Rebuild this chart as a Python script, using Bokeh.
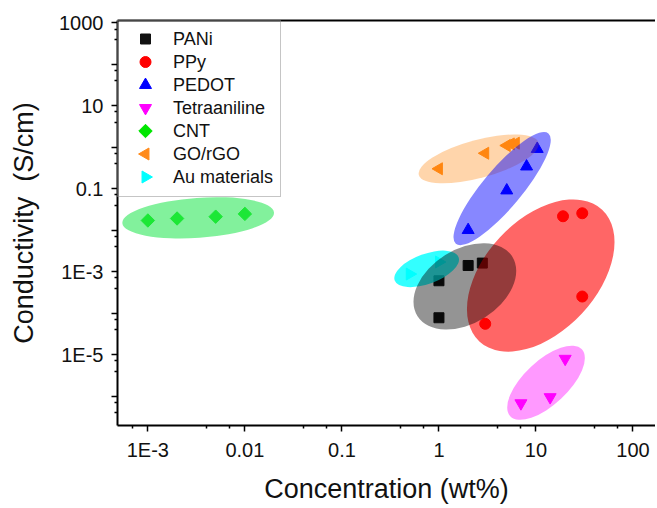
import numpy as np
from bokeh.plotting import figure
from bokeh.models import (Range1d, FixedTicker, LogAxis, Legend, LegendItem,
                          ColumnDataSource, LinearScale)
from bokeh.embed import file_html
from bokeh.resources import INLINE

# ---------------- data ----------------
pani_x = [1.0, 1.0, 2.0, 2.8]
pani_y = [7.7e-5, 6.0e-4, 1.4e-3, 1.6e-3]
ppy_x = [3.0, 19.0, 30.0, 30.0]
ppy_y = [5.5e-5, 0.0215, 0.0254, 2.5e-4]
pedot_x = [2.0, 5.0, 8.0, 10.3]
pedot_y = [0.010, 0.090, 0.34, 0.90]
tetra_x = [7.0, 14.0, 20.0]
tetra_y = [6.7e-7, 9.4e-7, 7.9e-6]
cnt_x = [0.001, 0.002, 0.005, 0.01]
cnt_y = [0.017, 0.019, 0.021, 0.0245]
go_x = [1.0, 3.0, 5.0, 5.5, 6.2]
go_y = [0.30, 0.71, 1.09, 1.19, 1.24]
au_x = [0.5, 1.0]
au_y = [8.7e-4, 1.7e-3]

series_names = ["PANi", "PPy", "PEDOT", "Tetraaniline", "CNT", "GO/rGO", "Au materials"]

# highlight ellipses: centre in data units, size in screen px, angle in degrees
ell_names = ["CNT", "GO/rGO", "PEDOT", "Au materials", "PPy", "PANi", "Tetraaniline"]
ell_cx = [3.3e-3, 2.57, 4.48, 0.747, 11.2, 1.85, 12.7]
ell_cy = [0.0197, 0.52, 0.10, 1.16e-3, 8.0e-4, 4.4e-4, 2.09e-6]
ell_w = [152, 124, 144, 68, 180, 112, 98]
ell_h = [40, 38, 39, 30, 112, 74, 44]
ell_ang = [4, 15, 50, 20, 47, 32, 43]
ell_color = ["#2ee85a", "#ff8000", "#0000ff", "#00ffff", "#ff0000", "#000000", "#ff00ff"]
ell_alpha = [0.6, 0.33, 0.47, 0.8, 0.6, 0.42, 0.4]

# ticks
x_major = [1e-3, 1e-2, 1e-1, 1.0, 10.0, 100.0]
x_labels = ["1E-3", "0.01", "0.1", "1", "10", "100"]
x_minor = [7e-4, 4e-3, 7e-3, 4e-2, 7e-2, 0.4, 0.7, 4.0, 7.0, 40.0, 70.0]
y_major = [1e-6, 1e-5, 1e-4, 1e-3, 1e-2, 1e-1, 1.0, 10.0, 100.0, 1000.0]
y_labels = ["", "1E-5", "", "1E-3", "", "0.1", "", "10", "", "1000"]
y_minor = [4e-7, 7e-7, 4e-6, 7e-6, 4e-5, 7e-5, 4e-4, 7e-4, 4e-3, 7e-3,
           4e-2, 7e-2, 0.4, 0.7, 4.0, 7.0, 40.0, 70.0, 400.0, 700.0]

FONT = "Liberation Sans"
W, H = 655, 508
BL, BT, BB = 117, 20, 83
FW, FH = W - BL, H - BT - BB

p = figure(width=W, height=H, x_axis_type="log", y_axis_type="log",
           x_range=Range1d(10 ** -3.313, 10 ** 2.232),
           y_range=Range1d(10 ** -6.71, 10 ** 3.05),
           output_backend="svg", toolbar_location=None,
           min_border_left=BL, min_border_right=0, min_border_top=BT, min_border_bottom=BB)
p.outline_line_color = None
p.grid.visible = False
p.background_fill_color = "white"

xa = p.xaxis[0]
ya = p.yaxis[0]
xa.ticker = FixedTicker(ticks=x_major, minor_ticks=x_minor)
xa.major_label_overrides = dict(zip(x_major, x_labels))
ya.ticker = FixedTicker(ticks=y_major, minor_ticks=y_minor)
ya.major_label_overrides = dict(zip(y_major, y_labels))
xa.axis_label = "Concentration (wt%)"
ya.axis_label = "Conductivity\u00a0 (S/cm)"
for ax in (xa, ya):
    ax.axis_line_width = 2
    ax.axis_line_color = "black"
    ax.major_tick_line_width = 1.5
    ax.minor_tick_line_width = 1.5
    ax.major_tick_in = 0
    ax.major_tick_out = 6
    ax.minor_tick_in = 0
    ax.minor_tick_out = 3
    ax.major_label_text_font = FONT
    ax.major_label_text_font_size = "20px"
    ax.major_label_text_color = "#111111"
    ax.major_label_standoff = 8
    ax.axis_label_text_font = FONT
    ax.axis_label_text_font_style = "normal"
    ax.axis_label_text_color = "#111111"
    ax.axis_label_text_font_size = "27px"
xa.major_label_standoff = 7
xa.axis_label_standoff = 10
ya.axis_label_standoff = 17

top = LogAxis(ticker=FixedTicker(ticks=[]), axis_line_width=2, axis_line_color="black",
              major_tick_line_color=None, minor_tick_line_color=None,
              major_label_text_font_size="0px")
p.add_layout(top, "above")

# markers
SQ = dict(marker="square", size=10, color="#111111")
CI = dict(marker="circle", size=11, color="#ff0000")
TU = dict(marker="triangle", size=12, color="#0000ff")
TD = dict(marker="inverted_triangle", size=12, color="#ff00ff")
DI = dict(marker="square", angle=np.pi / 4, size=9.5, color="#00e600")
TL = dict(marker="triangle", angle=np.pi / 2, size=12, color="#ff8a1a")
TR = dict(marker="triangle", angle=-np.pi / 2, size=12, color="#00ffff")
styles = [SQ, CI, TU, TD, DI, TL, TR]

xs = [pani_x, ppy_x, pedot_x, tetra_x, cnt_x, go_x, au_x]
ys = [pani_y, ppy_y, pedot_y, tetra_y, cnt_y, go_y, au_y]
for x, y, st in zip(xs, ys, styles):
    p.scatter(x, y, **st)

# translucent ellipses on top of the markers
src = ColumnDataSource(dict(x=ell_cx, y=ell_cy, w=ell_w, h=ell_h, a=ell_ang,
                            c=ell_color, al=ell_alpha, name=ell_names))
p.ellipse(x="x", y="y", width="w", height="h", angle="a", angle_units="deg",
          width_units="screen", height_units="screen",
          fill_color="c", fill_alpha="al", line_color=None, source=src)

# legend symbols, drawn in frame pixel units so left/right triangles keep their rotation
PAD, GW, ROW = 7, 44, 23
p.extra_x_ranges = {"px": Range1d(0, FW)}
p.extra_y_ranges = {"py": Range1d(FH, 0)}
p.extra_x_scales = {"px": LinearScale()}
p.extra_y_scales = {"py": LinearScale()}
for i, st in enumerate(styles):
    p.scatter([PAD + GW / 2 - 1], [PAD + ROW / 2 + i * ROW], x_range_name="px",
              y_range_name="py", **st)

# legend (labels + box, transparent so the symbols above show through)
dummies = [p.scatter(x=[], y=[], marker="square", fill_alpha=0, line_alpha=0)
           for _ in series_names]
items = [LegendItem(label=n, renderers=[r]) for n, r in zip(series_names, dummies)]
legend = Legend(items=items, location="top_left", margin=0, padding=PAD, spacing=0,
                glyph_width=GW, glyph_height=ROW, label_height=ROW, label_standoff=4,
                label_text_font=FONT, label_text_font_size="18px", label_text_color="#111111",
                border_line_color="#8c8c8c", border_line_width=1,
                background_fill_alpha=0.0)
p.add_layout(legend)

open("out.html", "w").write(file_html(p, INLINE))
